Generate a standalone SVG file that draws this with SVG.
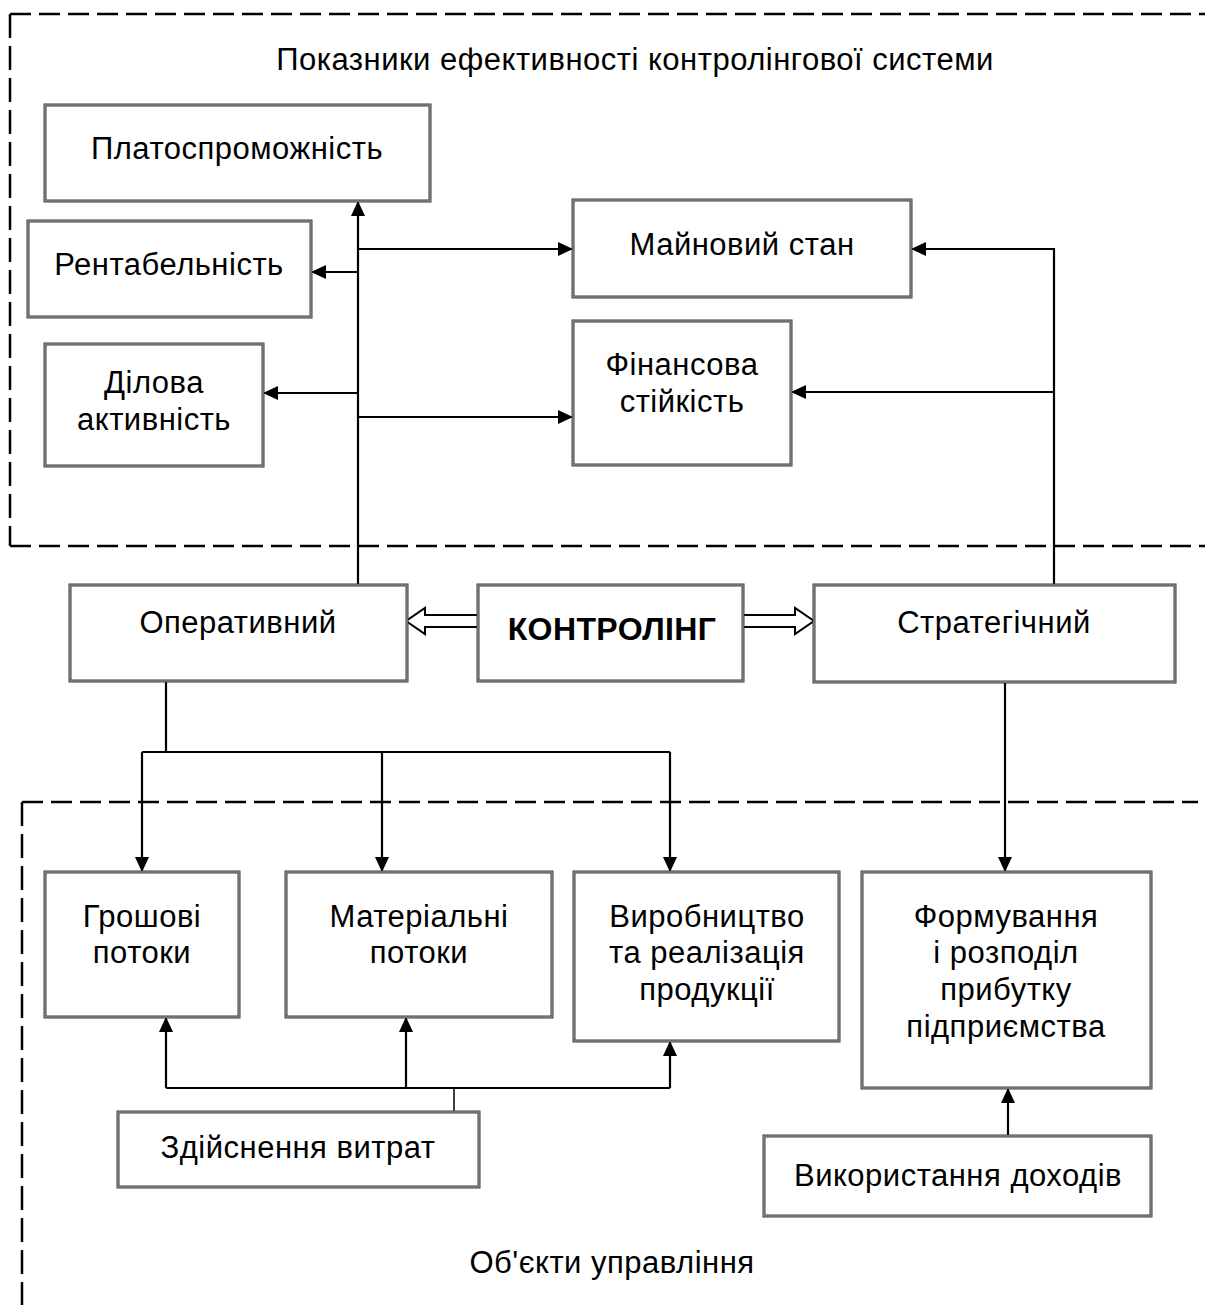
<svg xmlns="http://www.w3.org/2000/svg" width="1205" height="1305" viewBox="0 0 1205 1305">
  <style>
    .frame { fill: none; stroke: #000; stroke-width: 2.5; }
    .dh { stroke-dasharray: 21 8; }
    .dv { stroke-dasharray: 24 8; }
    .bo { fill: #fff; stroke: #3a3a3a; stroke-width: 3; }
    .bi { fill: none; stroke: #a8a8a8; stroke-width: 1; }
    text { font-family: "Liberation Sans", Arial, sans-serif; font-size: 31px; letter-spacing: 0.5px; fill: #000; text-anchor: middle; }
    .bold { font-weight: bold; font-size: 32px; letter-spacing: 0.4px; }
    .wire { fill: none; stroke: #000; stroke-width: 2.2; }
    .thin { fill: none; stroke: #000; stroke-width: 1.5; }
    .hollow { fill: #fff; stroke: #000; stroke-width: 2; stroke-linejoin: miter; }
  </style>
  <defs>
    <marker id="arr" markerUnits="userSpaceOnUse" markerWidth="16" markerHeight="14" refX="15" refY="7" orient="auto">
      <path d="M0,0 L15,7 L0,14 Z" fill="#000"/>
    </marker>
  </defs>

  <!-- dashed frame: performance indicators -->
  <g id="frame-indicators">
    <path class="frame dh" d="M10,14 H1205"/>
    <path class="frame dv" d="M10,14 V546"/>
    <path class="frame dh" d="M10,546 H1205"/>
    <text x="635" y="70">Показники ефективності контролінгової системи</text>
  </g>

  <!-- dashed frame: management objects -->
  <g id="frame-objects">
    <path class="frame dh" d="M22,802 H1198"/>
    <path class="frame dv" d="M22,802 V1305"/>
    <text x="612" y="1273">Об'єкти управління</text>
  </g>

  <!-- connectors -->
  <g id="connectors">
    <!-- operational controlling up to indicators -->
    <path class="wire" d="M358,585 V201" marker-end="url(#arr)"/>
    <path class="wire" d="M358,249 H573" marker-end="url(#arr)"/>
    <path class="wire" d="M358,272 H311" marker-end="url(#arr)"/>
    <path class="wire" d="M358,393 H263" marker-end="url(#arr)"/>
    <path class="wire" d="M358,417 H573" marker-end="url(#arr)"/>
    <!-- strategic controlling up to indicators -->
    <path class="wire" d="M1054,585 V249 H911" marker-end="url(#arr)"/>
    <path class="wire" d="M1054,392 H791" marker-end="url(#arr)"/>
    <!-- controlling to its two kinds -->
    <path class="hollow" d="M478,615 H425 V608 L406,621 L425,634 V627 H478"/>
    <path class="hollow" d="M743,615 H795 V608 L814,621 L795,634 V627 H743"/>
    <!-- operational down to objects -->
    <path class="wire" d="M166,681 V752"/>
    <path class="wire" d="M142,752 H670"/>
    <path class="wire" d="M142,752 V872" marker-end="url(#arr)"/>
    <path class="wire" d="M382,752 V872" marker-end="url(#arr)"/>
    <path class="wire" d="M670,752 V872" marker-end="url(#arr)"/>
    <!-- strategic down to profit -->
    <path class="wire" d="M1005,682 V872" marker-end="url(#arr)"/>
    <!-- costs bus -->
    <path class="wire" d="M166,1088 H670"/>
    <path class="wire" d="M166,1088 V1017" marker-end="url(#arr)"/>
    <path class="wire" d="M406,1088 V1017" marker-end="url(#arr)"/>
    <path class="wire" d="M670,1088 V1041" marker-end="url(#arr)"/>
    <path class="thin" d="M454,1088 V1112"/>
    <!-- income use up to profit -->
    <path class="wire" d="M1008,1136 V1088" marker-end="url(#arr)"/>
  </g>

  <!-- nodes -->
  <g id="n-solvency">
    <rect class="bo" x="45" y="105" width="385" height="96"/><rect class="bi" x="45" y="105" width="385" height="96"/>
    <text x="237" y="159">Платоспроможність</text>
  </g>
  <g id="n-profitability">
    <rect class="bo" x="28" y="221" width="283" height="96"/><rect class="bi" x="28" y="221" width="283" height="96"/>
    <text x="169" y="275">Рентабельність</text>
  </g>
  <g id="n-activity">
    <rect class="bo" x="45" y="344" width="218" height="122"/><rect class="bi" x="45" y="344" width="218" height="122"/>
    <text x="154" y="393">Ділова</text>
    <text x="154" y="430">активність</text>
  </g>
  <g id="n-property">
    <rect class="bo" x="573" y="200" width="338" height="97"/><rect class="bi" x="573" y="200" width="338" height="97"/>
    <text x="742" y="255">Майновий стан</text>
  </g>
  <g id="n-stability">
    <rect class="bo" x="573" y="321" width="218" height="144"/><rect class="bi" x="573" y="321" width="218" height="144"/>
    <text x="682" y="375">Фінансова</text>
    <text x="682" y="412">стійкість</text>
  </g>
  <g id="n-operational">
    <rect class="bo" x="70" y="585" width="337" height="96"/><rect class="bi" x="70" y="585" width="337" height="96"/>
    <text x="238" y="633">Оперативний</text>
  </g>
  <g id="n-controlling">
    <rect class="bo" x="478" y="585" width="265" height="96"/><rect class="bi" x="478" y="585" width="265" height="96"/>
    <text class="bold" x="612" y="640">КОНТРОЛІНГ</text>
  </g>
  <g id="n-strategic">
    <rect class="bo" x="814" y="585" width="361" height="97"/><rect class="bi" x="814" y="585" width="361" height="97"/>
    <text x="994" y="633">Стратегічний</text>
  </g>
  <g id="n-cash">
    <rect class="bo" x="45" y="872" width="194" height="145"/><rect class="bi" x="45" y="872" width="194" height="145"/>
    <text x="142" y="927">Грошові</text>
    <text x="142" y="963">потоки</text>
  </g>
  <g id="n-material">
    <rect class="bo" x="286" y="872" width="266" height="145"/><rect class="bi" x="286" y="872" width="266" height="145"/>
    <text x="419" y="927">Матеріальні</text>
    <text x="419" y="963">потоки</text>
  </g>
  <g id="n-production">
    <rect class="bo" x="574" y="872" width="265" height="169"/><rect class="bi" x="574" y="872" width="265" height="169"/>
    <text x="707" y="927">Виробництво</text>
    <text x="707" y="963">та реалізація</text>
    <text x="707" y="1000">продукції</text>
  </g>
  <g id="n-profit">
    <rect class="bo" x="862" y="872" width="289" height="216"/><rect class="bi" x="862" y="872" width="289" height="216"/>
    <text x="1006" y="927">Формування</text>
    <text x="1006" y="963">і розподіл</text>
    <text x="1006" y="1000">прибутку</text>
    <text x="1006" y="1037">підприємства</text>
  </g>
  <g id="n-costs">
    <rect class="bo" x="118" y="1112" width="361" height="75"/><rect class="bi" x="118" y="1112" width="361" height="75"/>
    <text x="298" y="1158">Здійснення витрат</text>
  </g>
  <g id="n-income">
    <rect class="bo" x="764" y="1136" width="387" height="80"/><rect class="bi" x="764" y="1136" width="387" height="80"/>
    <text x="958" y="1186">Використання доходів</text>
  </g>
</svg>
